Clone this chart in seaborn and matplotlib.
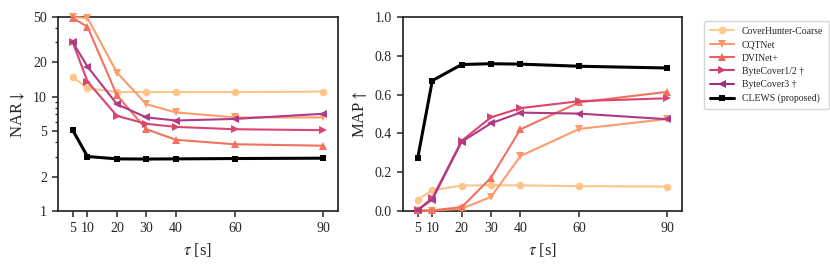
import matplotlib
matplotlib.use("Agg")
import matplotlib.pyplot as plt
import matplotlib.ticker as mticker
import pandas as pd
import seaborn as sns

# ── Data ─────────────────────────────────────────────────────────────────────
TAU     = [5, 10, 20, 30, 40, 60, 90]
METHODS = ["CoverHunter-Coarse", "CQTNet", "DVINet+",
           "ByteCover1/2 \u2020", "ByteCover3 \u2020", "CLEWS (proposed)"]

NAR = {
    "CoverHunter-Coarse": [14.9, 11.9, 11.0, 11.0, 11.0, 11.0, 11.1],
    "CQTNet":             [50.0, 49.0, 16.3, 8.6, 7.3, 6.6, 6.6],
    "DVINet+":            [49.0, 41.0, 10.3, 5.2, 4.2, 3.84, 3.73],
    "ByteCover1/2 \u2020":     [30.0, 13.6, 6.8, 5.8, 5.45, 5.2, 5.1],
    "ByteCover3 \u2020":       [30.0, 18.4, 8.6, 6.6, 6.2, 6.4, 7.1],
    "CLEWS (proposed)":   [5.1, 3.0, 2.86, 2.85, 2.86, 2.88, 2.9],
}
MAP = {
    "CoverHunter-Coarse": [0.059, 0.107, 0.131, 0.133, 0.132, 0.128, 0.126],
    "CQTNet":             [0.002, 0.002, 0.012, 0.073, 0.283, 0.423, 0.474],
    "DVINet+":            [0.003, 0.003, 0.020, 0.172, 0.421, 0.560, 0.614],
    "ByteCover1/2 \u2020":     [0.005, 0.067, 0.362, 0.483, 0.530, 0.566, 0.581],
    "ByteCover3 \u2020":       [0.005, 0.059, 0.357, 0.452, 0.507, 0.502, 0.473],
    "CLEWS (proposed)":   [0.271, 0.672, 0.755, 0.759, 0.757, 0.746, 0.737],
}

NAR_TICKS = [1, 2, 5, 10, 20, 50]
MAP_TICKS = [0.0, 0.2, 0.4, 0.6, 0.8, 1.0]

# ── Style ────────────────────────────────────────────────────────────────────
sns.set_theme(style="ticks")
plt.rcParams["font.family"] = ["Liberation Serif", "DejaVu Serif"]
plt.rcParams["mathtext.fontset"] = "stix"
plt.rcParams["font.size"] = 10

LINE_COLORS   = ["#fec589", "#fc9c6b", "#f2715e", "#da4570", "#b03a84", "#000000"]
LEGEND_COLORS = sns.color_palette("magma_r", 8)[:5] + [(0, 0, 0)]
MARKERS       = ["o", "v", "^", ">", "<", "s"]


def to_long(values):
    rows = []
    for m in METHODS:
        for t, v in zip(TAU, values[m]):
            rows.append({"tau": t, "value": v, "method": m})
    return pd.DataFrame(rows)


df_nar = to_long(NAR)
df_map = to_long(MAP)

fig = plt.figure(figsize=(8.3, 2.68), dpi=100)
ax1 = fig.add_axes([0.0699, 0.2127, 0.3373, 0.724])
ax2 = fig.add_axes([0.4855, 0.2127, 0.3361, 0.724])

for ax, df in [(ax1, df_nar), (ax2, df_map)]:
    for m, c, mk in zip(METHODS, LINE_COLORS, MARKERS):
        proposed = m.startswith("CLEWS")
        sns.lineplot(data=df[df["method"] == m], x="tau", y="value", ax=ax,
                     color=c, marker=mk, markersize=5 if proposed else 5.5,
                     markeredgewidth=0, linewidth=2.2 if proposed else 1.5,
                     label=m, clip_on=False, zorder=5 if proposed else 3)

# NAR panel (log)
ax1.set_yscale("log")
ax1.set_ylim(1, 50)
ax1.set_yticks(NAR_TICKS)
ax1.yaxis.set_major_formatter(mticker.FixedFormatter([str(t) for t in NAR_TICKS]))
ax1.yaxis.set_minor_locator(mticker.LogLocator(base=10, subs=range(2, 10)))
ax1.yaxis.set_minor_formatter(mticker.NullFormatter())
ax1.set_ylabel(r"NAR$\downarrow$")

# MAP panel
ax2.set_ylim(0, 1)
ax2.set_yticks(MAP_TICKS)
ax2.set_yticklabels([f"{t:.1f}" for t in MAP_TICKS])
ax2.set_ylabel(r"MAP$\uparrow$")

for ax in (ax1, ax2):
    ax.set_xlim(0, 95)
    ax.set_xticks(TAU)
    ax.set_xticklabels([str(t) for t in TAU])
    ax.set_xlabel(r"$\tau$ [s]")
    ax.tick_params(which="major", labelsize=10, length=4, width=1.1, pad=4)
    ax.tick_params(which="minor", length=2.5, width=0.9)
    ax.get_legend().remove()

handles, labels = ax1.get_legend_handles_labels()
leg = fig.legend(handles, labels, loc="upper left", bbox_to_anchor=(0.842, 0.94),
                 fontsize=7, frameon=True, handlelength=2.5,
                 borderpad=0.6, labelspacing=0.45)
for h, c in zip(leg.legend_handles, LEGEND_COLORS):
    h.set_color(c)

plt.savefig("out.png", dpi=100)
plt.close()
